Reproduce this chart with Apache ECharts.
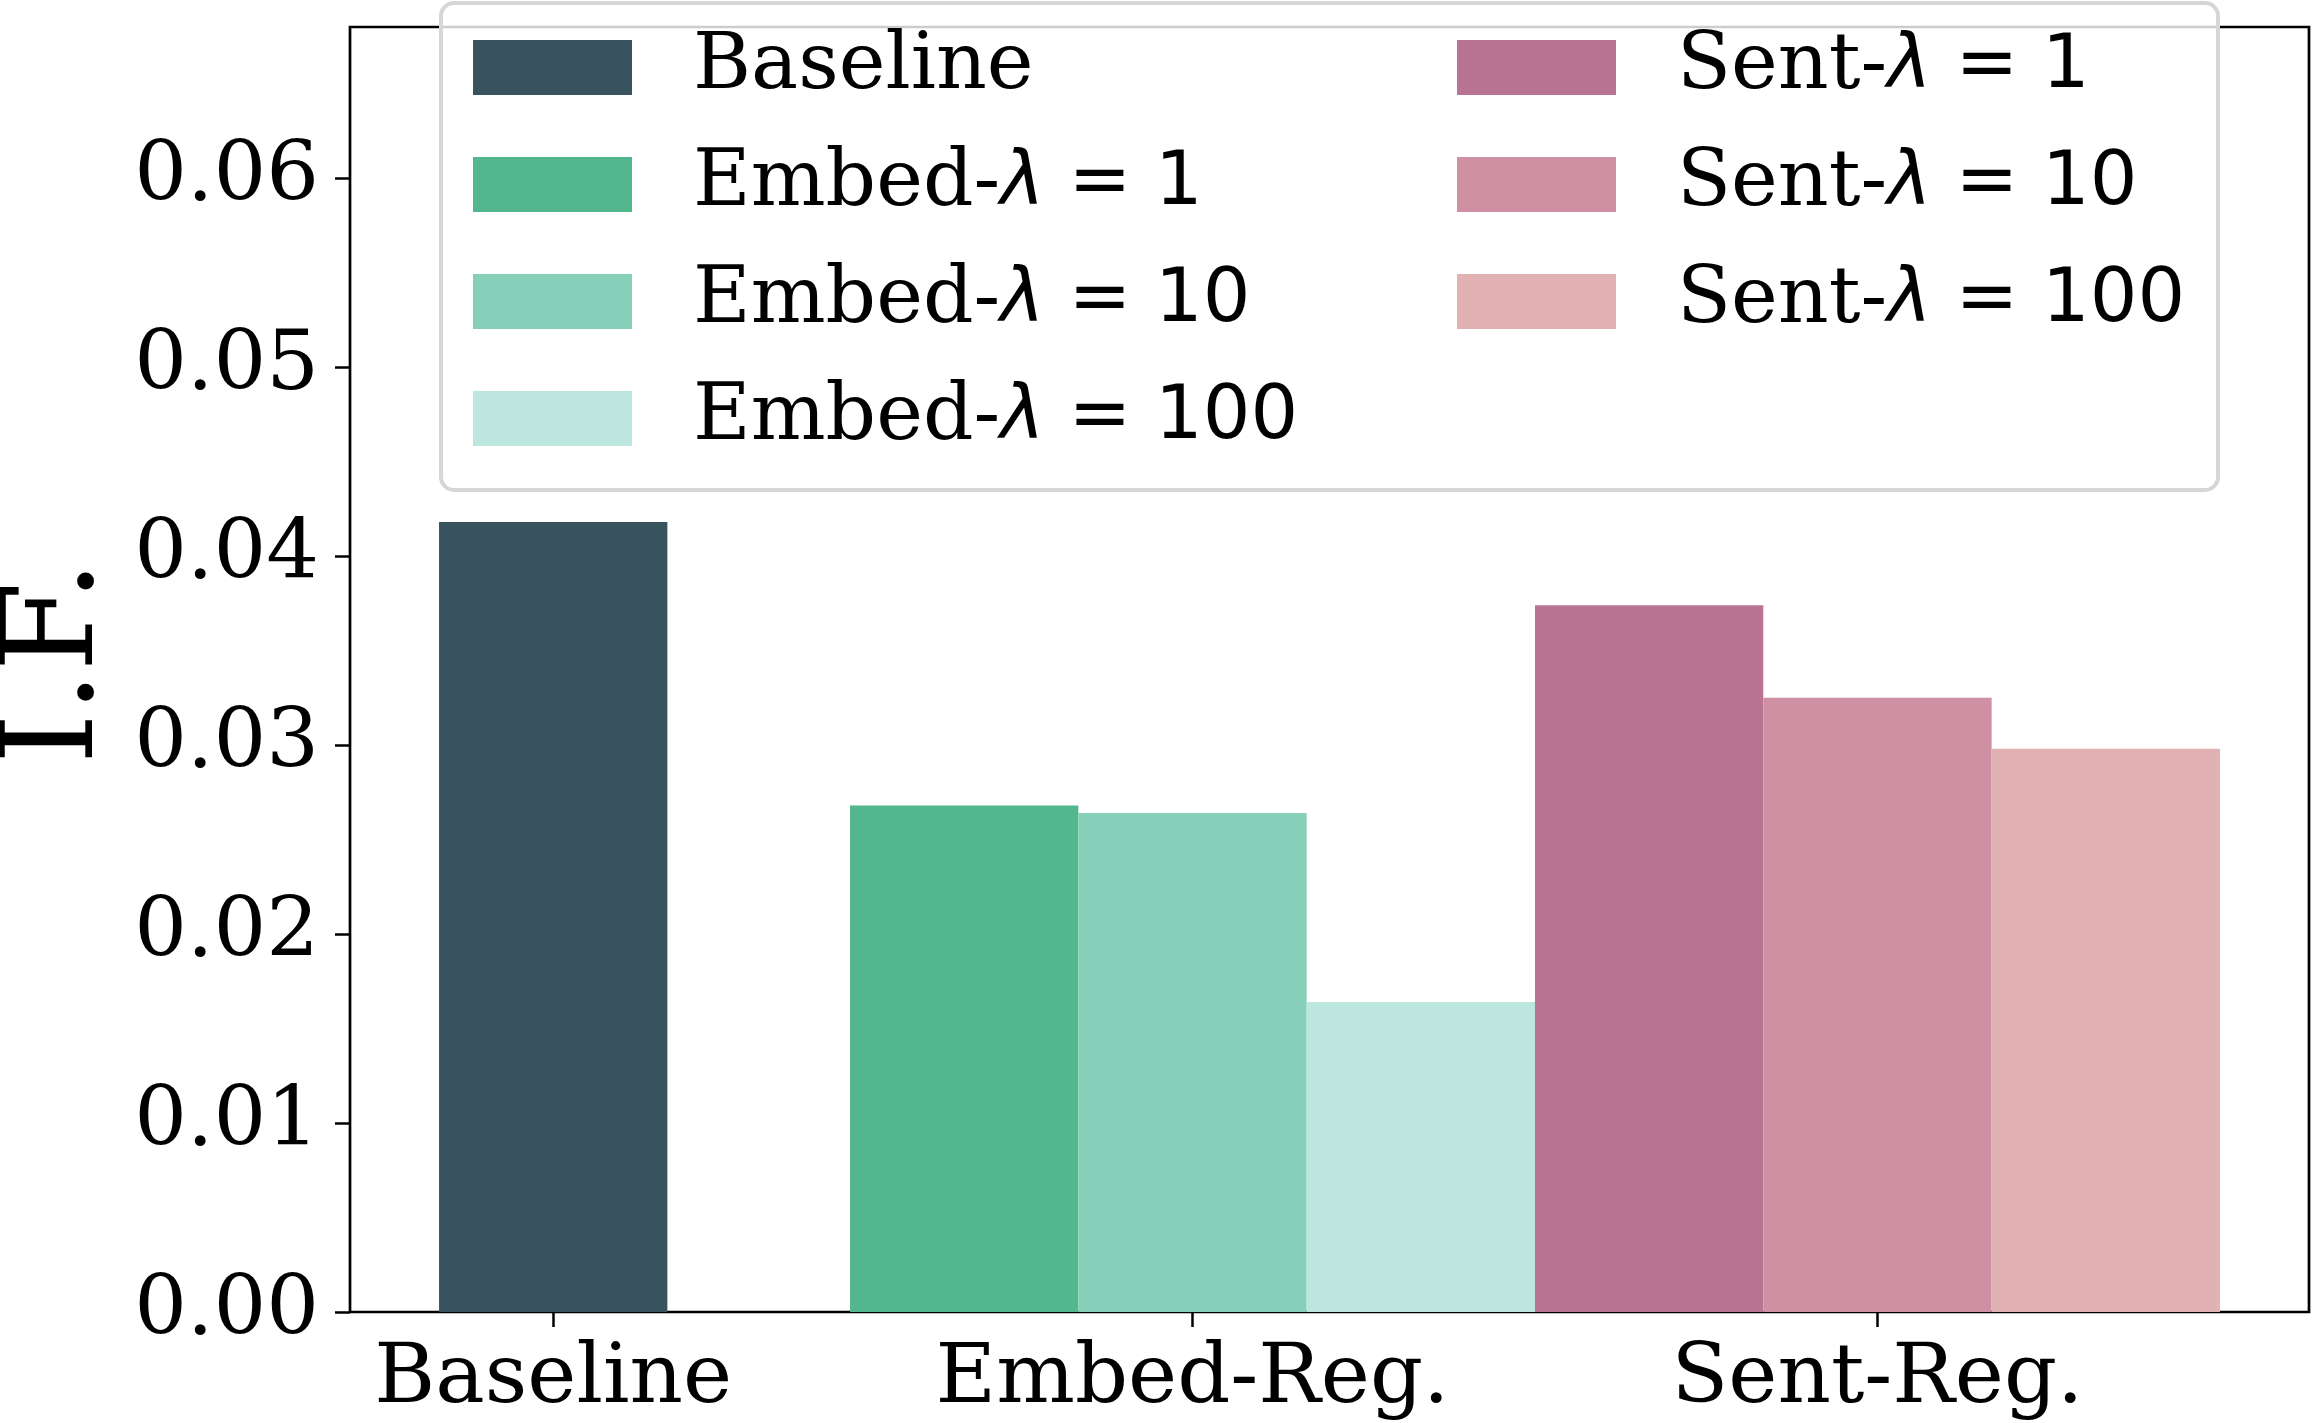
<!DOCTYPE html>
<html>
<head>
<meta charset="utf-8">
<script src="https://cdn.jsdelivr.net/npm/echarts@6/dist/echarts.min.js"></script>
<style>
  html, body { margin: 0; padding: 0; background: #ffffff; }
  #chart { width: 2313px; height: 1423px; }
</style>
</head>
<body>
<div id="chart"></div>
<script>
// ---- data ----
const categories = ['Baseline', 'Embed-Reg.', 'Sent-Reg.'];
const lambdas = [1, 10, 100];
const baselineValues = [0.0418];
const embedValues = [0.0268, 0.0264, 0.0164];
const sentValues = [0.0374, 0.0325, 0.0298];
const yTicks = [0.00, 0.01, 0.02, 0.03, 0.04, 0.05, 0.06];
const yMax = 0.068;

// ---- styles / layout ----
const baselineColor = '#38535e';
const embedColors = ['#52b78c', '#86cfb9', '#bde6df'];
const sentColors = ['#b97493', '#d090a4', '#e2b1b4'];
const W = 2313, H = 1423;
const grid = { left: 350, right: 4, top: 27, bottom: 111 };
// layout in bar-width units (axis runs 0 .. xSpan)
const margin = 0.39;
const groupCenters = [margin + 0.5, margin + 3.3, margin + 6.3];
const xSpan = margin * 2 + 7.8;
const unitPx = (W - grid.left - grid.right) / xSpan;

const serif = 'DejaVu Serif';
const tickFont = 83;
const legendSerif = 79;
const legendSans = 75;

function barData(center, i, n, v) {
  return [[center + (i - (n - 1) / 2), v]];
}

const series = [];
series.push({
  type: 'bar', name: 'Baseline',
  data: barData(groupCenters[0], 0, 1, baselineValues[0]),
  barWidth: unitPx, barGap: '-100%',
  itemStyle: { color: baselineColor }
});
lambdas.forEach((l, i) => {
  series.push({
    type: 'bar', name: 'Embed-λ = ' + l,
    data: barData(groupCenters[1], i, 3, embedValues[i]),
    barWidth: unitPx, barGap: '-100%',
    itemStyle: { color: embedColors[i] }
  });
});
lambdas.forEach((l, i) => {
  series.push({
    type: 'bar', name: 'Sent-λ = ' + l,
    data: barData(groupCenters[2], i, 3, sentValues[i]),
    barWidth: unitPx, barGap: '-100%',
    itemStyle: { color: sentColors[i] }
  });
});

const legendRich = {
  sp: { width: 56, fontSize: legendSans },
  s: { fontFamily: serif, fontSize: legendSerif, color: '#000' },
  m: { fontFamily: 'DejaVu Sans', fontStyle: 'italic', fontSize: legendSans, color: '#000' },
  n: { fontFamily: 'DejaVu Sans', fontSize: legendSans, color: '#000' }
};
function legendFormatter(name) {
  const k = name.indexOf('λ');
  if (k < 0) return '{sp| }{s|' + name + '}';
  return '{sp| }{s|' + name.slice(0, k) + '}{m|λ}{n|' + name.slice(k + 1) + '}';
}
function makeLegend(names, left) {
  return {
    data: names, orient: 'vertical', left: left, top: 28, padding: 0,
    itemWidth: 159, itemHeight: 55, itemGap: 38, icon: 'rect',
    selectedMode: false, z: 20,
    itemStyle: { borderWidth: 0 },
    formatter: legendFormatter,
    textStyle: { rich: legendRich, fontFamily: serif, fontSize: legendSerif }
  };
}

const option = {
  animation: false,
  backgroundColor: '#ffffff',
  grid: {
    left: grid.left, right: grid.right, top: grid.top, bottom: grid.bottom,
    outerBoundsMode: 'none', containLabel: false,
    show: true, borderColor: '#000', borderWidth: 2.7, backgroundColor: 'transparent'
  },
  legend: [
    makeLegend(['Baseline'].concat(lambdas.map(l => 'Embed-λ = ' + l)), 473),
    makeLegend(lambdas.map(l => 'Sent-λ = ' + l), 1457)
  ],
  graphic: [{
    type: 'rect', z: 10,
    shape: { x: 441, y: 3, width: 1777, height: 487, r: 13 },
    style: { fill: 'rgba(255,255,255,0.8)', stroke: '#d6d6d6', lineWidth: 4 }
  }],
  xAxis: {
    type: 'value', min: 0, max: xSpan,
    axisLine: { show: false },
    splitLine: { show: false },
    axisTick: { show: true, customValues: groupCenters, length: 15, lineStyle: { color: '#000', width: 2.5 } },
    axisLabel: {
      customValues: groupCenters, margin: 27,
      fontFamily: serif, fontSize: tickFont, color: '#000',
      formatter: (v) => {
        let best = 0;
        groupCenters.forEach((c, i) => { if (Math.abs(c - v) < Math.abs(groupCenters[best] - v)) best = i; });
        return categories[best];
      }
    }
  },
  yAxis: {
    type: 'value', min: 0, max: yMax,
    name: 'I.F.', nameLocation: 'middle', nameRotate: 90, nameGap: 225,
    nameTextStyle: { fontFamily: serif, fontSize: 130, color: '#000', padding: [0, 0, 0, 14] },
    axisLine: { show: false },
    splitLine: { show: false },
    axisTick: { show: true, customValues: yTicks, length: 15, lineStyle: { color: '#000', width: 2.5 } },
    axisLabel: {
      customValues: yTicks, margin: 31, padding: [14, 0, 0, 0],
      fontFamily: serif, fontSize: tickFont, color: '#000',
      formatter: (v) => v.toFixed(2)
    }
  },
  series: series
};

const chart = echarts.init(document.getElementById('chart'), null, { renderer: 'canvas', width: W, height: H });
chart.setOption(option);
</script>
</body>
</html>
